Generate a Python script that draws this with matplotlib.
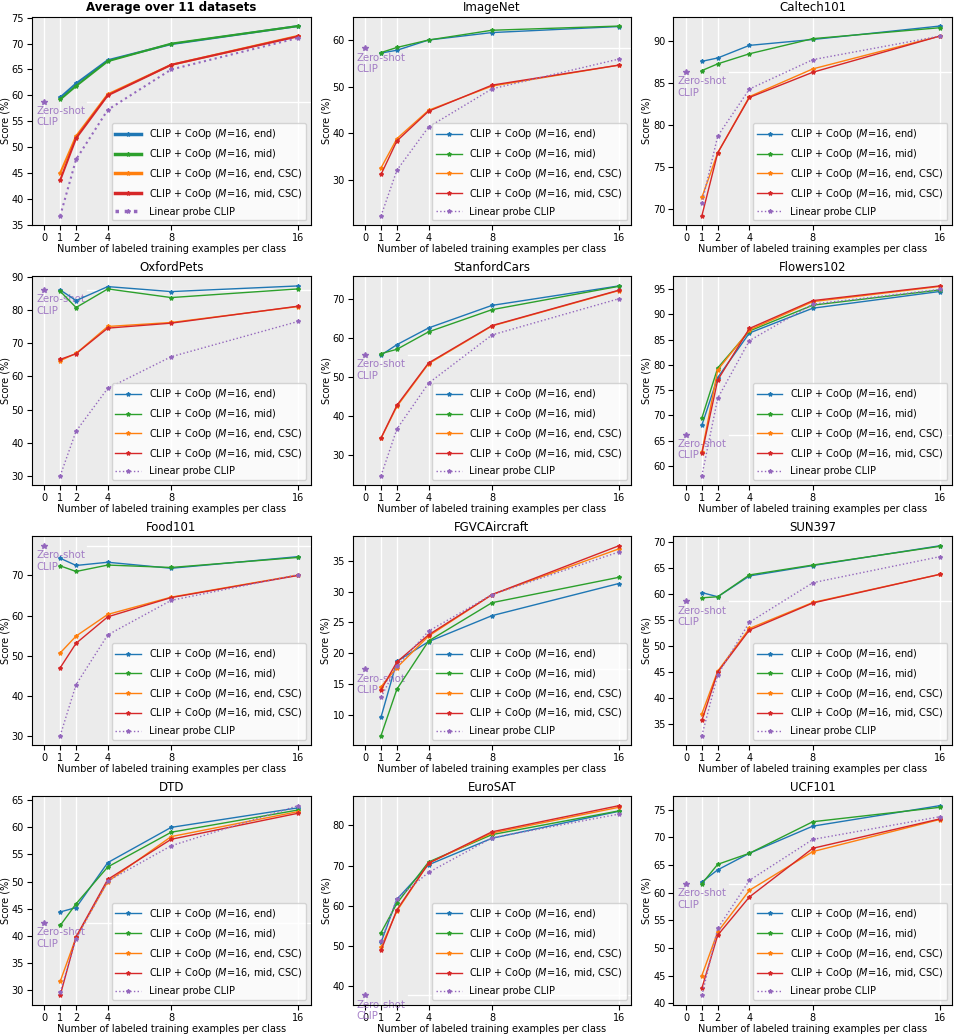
import numpy as np
import matplotlib
matplotlib.use('Agg')
import matplotlib.pyplot as plt
from matplotlib.ticker import MultipleLocator

# few-shot results
shots = [1, 2, 4, 8, 16]
datasets = ['Average over 11 datasets', 'ImageNet', 'Caltech101', 'OxfordPets',
            'StanfordCars', 'Flowers102', 'Food101', 'FGVCAircraft',
            'SUN397', 'DTD', 'EuroSAT', 'UCF101']

zero_shot = [58.8, 58.2, 86.3, 85.9, 55.7, 66.2, 77.4, 17.4, 58.6, 42.4, 37.7, 61.5]

coop_end = [
    [59.6, 62.3, 66.8, 69.9, 73.4],
    [57.2, 57.8, 60.0, 61.6, 62.9],
    [87.6, 88.0, 89.5, 90.2, 91.8],
    [86.0, 82.8, 87.0, 85.5, 87.2],
    [55.6, 58.3, 62.6, 68.4, 73.4],
    [68.1, 77.5, 86.3, 91.2, 94.5],
    [74.3, 72.5, 73.3, 71.8, 74.7],
    [9.7, 18.7, 21.9, 26.1, 31.3],
    [60.3, 59.5, 63.5, 65.5, 69.3],
    [44.4, 45.2, 53.5, 60.0, 63.6],
    [50.9, 61.6, 70.2, 76.8, 83.5],
    [61.9, 64.1, 67.1, 72.0, 75.7],
]
coop_mid = [
    [59.2, 61.8, 66.6, 70.0, 73.4],
    [57.3, 58.4, 60.0, 62.1, 63.0],
    [86.5, 87.3, 88.5, 90.3, 91.6],
    [85.6, 80.7, 86.3, 83.7, 86.3],
    [56.0, 57.1, 61.6, 67.3, 73.3],
    [69.5, 79.4, 86.7, 91.8, 94.8],
    [72.4, 71.0, 72.6, 72.0, 74.5],
    [6.7, 14.2, 22.0, 28.2, 32.3],
    [59.3, 59.5, 63.7, 65.6, 69.2],
    [41.9, 45.9, 52.7, 59.1, 63.2],
    [53.3, 60.6, 70.9, 77.7, 83.6],
    [61.6, 65.1, 67.1, 72.8, 75.4],
]
coop_end_csc = [
    [45.0, 52.1, 60.2, 65.9, 71.5],
    [32.5, 38.8, 44.9, 50.1, 54.6],
    [71.4, 76.7, 83.4, 86.7, 90.6],
    [64.7, 66.9, 75.0, 76.2, 81.0],
    [34.2, 42.4, 53.4, 63.1, 72.2],
    [62.7, 79.0, 86.9, 92.5, 95.5],
    [50.7, 54.9, 60.3, 64.6, 70.1],
    [14.6, 17.7, 22.8, 29.5, 36.9],
    [37.0, 45.2, 53.4, 58.4, 63.8],
    [31.6, 39.7, 50.0, 58.3, 62.9],
    [49.7, 58.7, 70.6, 78.1, 84.5],
    [45.0, 52.9, 60.4, 67.4, 73.2],
]
coop_mid_csc = [
    [43.6, 51.7, 60.0, 65.9, 71.4],
    [31.1, 38.3, 44.7, 50.3, 54.6],
    [69.2, 76.7, 83.3, 86.3, 90.6],
    [65.1, 66.8, 74.5, 76.0, 81.1],
    [34.3, 42.7, 53.6, 63.2, 72.3],
    [62.5, 77.0, 87.2, 92.7, 95.6],
    [47.0, 53.1, 59.7, 64.5, 70.0],
    [14.1, 18.6, 23.0, 29.5, 37.4],
    [35.7, 45.0, 53.1, 58.3, 63.8],
    [29.0, 39.8, 50.4, 57.8, 62.6],
    [48.9, 59.0, 70.6, 78.4, 84.9],
    [42.7, 52.3, 59.2, 68.0, 73.3],
]
linear_probe = [
    [36.7, 47.6, 57.2, 65.0, 71.1],
    [22.2, 32.0, 41.3, 49.5, 55.9],
    [70.7, 78.7, 84.3, 87.8, 90.6],
    [30.1, 43.5, 56.4, 65.9, 76.5],
    [24.6, 36.6, 48.4, 60.8, 70.1],
    [58.1, 73.4, 84.8, 92.0, 94.9],
    [30.1, 42.8, 55.2, 63.8, 70.2],
    [12.9, 17.9, 23.6, 29.5, 36.4],
    [32.8, 44.5, 54.6, 62.2, 67.2],
    [29.6, 39.5, 50.1, 56.6, 64.0],
    [51.2, 61.8, 68.3, 76.9, 82.8],
    [41.4, 53.5, 62.2, 69.6, 73.7],
]

# y tick spacing per panel, as in the reference
ytick_step = [5, 10, 5, 10, 10, 5, 10, 5, 5, 5, 10, 5]

series = [
    (coop_end, r'CLIP + CoOp ($M$=16, end)', 'tab:blue', '-'),
    (coop_mid, r'CLIP + CoOp ($M$=16, mid)', 'tab:green', '-'),
    (coop_end_csc, r'CLIP + CoOp ($M$=16, end, CSC)', 'tab:orange', '-'),
    (coop_mid_csc, r'CLIP + CoOp ($M$=16, mid, CSC)', 'tab:red', '-'),
    (linear_probe, 'Linear probe CLIP', 'tab:purple', ':'),
]

bg = '#EBEBEB'

fig, axes = plt.subplots(4, 3, figsize=(9.6, 10.36), dpi=100)
fig.subplots_adjust(left=0.033, right=0.992, top=0.984, bottom=0.03,
                    wspace=0.15, hspace=0.245)

labels = []
for i, ax in enumerate(axes.flat):
    ax.set_facecolor(bg)
    avg = (i == 0)
    lw = 1.5 if avg else 1.0
    for data, label, color, ls in series:
        ax.plot(shots, data[i], ls, color=color, lw=lw, marker='*',
                markersize=3, label=label, zorder=3)
    zs = zero_shot[i]
    ax.plot([0], [zs], '*', color='tab:purple', markersize=4, zorder=3)
    t = ax.annotate('Zero-shot\nCLIP', (0, zs), xytext=(-6, -3),
                    textcoords='offset points', ha='left', va='top',
                    color='tab:purple', alpha=0.85, fontsize=7.3, zorder=2.5)
    labels.append(t)
    ax.set_xticks([0, 1, 2, 4, 8, 16])
    ax.yaxis.set_major_locator(MultipleLocator(ytick_step[i]))
    ax.grid(axis='x', color='white', lw=1, zorder=0)
    ax.set_axisbelow(True)
    ax.tick_params(labelsize=7, pad=2)
    ax.set_title(datasets[i], fontsize=8.5,
                 fontweight='bold' if avg else 'normal', pad=4)
    ax.set_xlabel('Number of labeled training examples per class', fontsize=7, labelpad=1)
    ax.set_ylabel('Score (%)', fontsize=7, labelpad=1)
    leg = ax.legend(loc='lower right', fontsize=7, framealpha=0.8,
                    labelspacing=0.6, handlelength=2.6)
    if avg:
        for h in leg.get_lines():
            h.set_linewidth(2.5)

# white reference line at zero-shot level, starting right after the label
fig.canvas.draw()
renderer = fig.canvas.get_renderer()
for i, ax in enumerate(axes.flat):
    ext = labels[i].get_window_extent(renderer)
    ab = ax.get_window_extent(renderer)
    start = (ext.x1 + 2 - ab.x0) / ab.width
    ax.axhline(zero_shot[i], xmin=start, xmax=1, color='white', lw=1, zorder=1)

fig.savefig('out.png', dpi=100)
